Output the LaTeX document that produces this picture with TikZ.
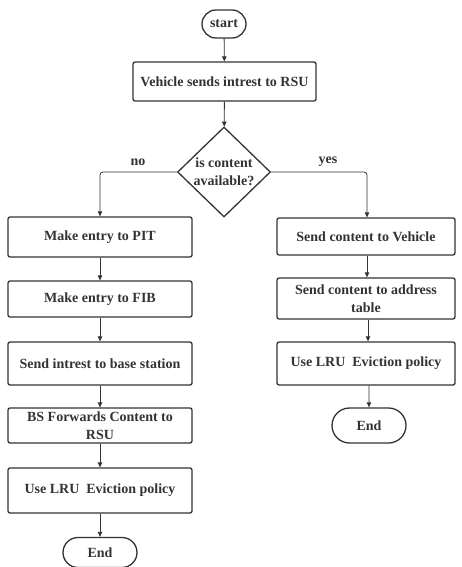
\documentclass[tikz,border=0pt]{standalone}
\usepackage{fontspec}
\setmainfont{Liberation Serif}
\usetikzlibrary{arrows.meta,shapes.geometric}
\definecolor{ink}{HTML}{333333}
\tikzset{
  txt/.style={font=\bfseries\fontsize{14}{18}\selectfont, text=ink, align=center},
  box/.style={txt, draw=ink, line width=1.3pt, rounded corners=2pt, inner sep=0pt},
  term/.style={txt, draw=ink, line width=1.3pt, rounded rectangle, inner sep=0pt},
  arr/.style={draw=ink, line width=0.8pt, -{Triangle[length=5pt,width=4.5pt]}},
  lbl/.style={txt}
}
\usetikzlibrary{shapes.misc}
\begin{document}
\begin{tikzpicture}[x=1pt,y=-1pt]
\useasboundingbox (0,0) rectangle (462,567);
% top
\node[term, minimum width=44pt, minimum height=28pt] (start) at (224,24) {start};
\node[box, minimum width=183pt, minimum height=39pt] (veh) at (224.5,81.5) {Vehicle sends intrest to RSU};
\node[diamond, draw=ink, line width=1.3pt, minimum width=93pt, minimum height=90pt, inner sep=0pt] (dec) at (224,172) {};
\node[txt] (dect) at (224,172) {is content\\available?};
% left column
\node[box, minimum width=184pt, minimum height=40pt] (pit) at (100,237) {Make entry to PIT};
\node[box, minimum width=184pt, minimum height=36pt] (fib) at (100,299) {Make entry to FIB};
\node[box, minimum width=184pt, minimum height=43pt] (sbs) at (100,363.5) {Send intrest to base station};
\node[box, minimum width=184pt, minimum height=35pt] (bsf) at (100,425.5) {BS Forwards Content to\\RSU};
\node[box, minimum width=184pt, minimum height=45pt] (lru1) at (100,490.5) {Use LRU\ \ Eviction policy};
\node[term, minimum width=74pt, minimum height=30pt] (end1) at (100,552.5) {End};
% right column
\node[box, minimum width=178pt, minimum height=37pt] (scv) at (366,236.5) {Send content to Vehicle};
\node[box, minimum width=178pt, minimum height=41pt] (sca) at (366,298.5) {Send content to address\\table};
\node[box, minimum width=178pt, minimum height=43pt] (lru2) at (366,363.5) {Use LRU\ \ Eviction policy};
\node[term, minimum width=74pt, minimum height=35pt] (end2) at (369,425.5) {End};
% connectors
\draw[arr] (start) -- (veh);
\draw[arr] (veh) -- (dec);
\draw[arr, rounded corners=3pt] (dec.west) -| (pit.north);
\draw[arr, rounded corners=3pt] (dec.east) -| (scv.north -| 367,0);
\node[lbl] (no) at (138,162) {no};
\node[lbl] (yes) at (328,162) {yes};
\draw[arr] (pit) -- (fib);
\draw[arr] (fib) -- (sbs);
\draw[arr] (sbs) -- (bsf);
\draw[arr] (bsf) -- (lru1);
\draw[arr] (lru1) -- (end1);
\draw[arr] (scv.south -| 367,0) -- (sca.north -| 367,0);
\draw[arr] (sca.south -| 368,0) -- (lru2.north -| 368,0);
\draw[arr] (lru2.south -| 369,0) -- (end2);
\end{tikzpicture}
\end{document}
